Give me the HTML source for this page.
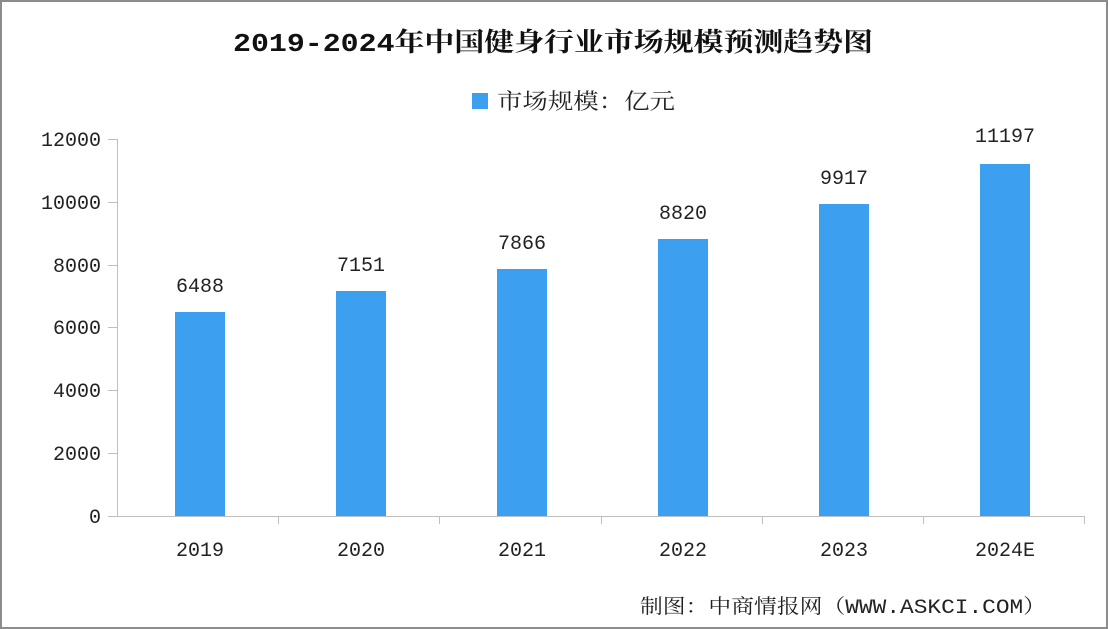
<!DOCTYPE html>
<html><head><meta charset="utf-8"><style>
html,body{margin:0;padding:0;background:#fff}
svg{display:block}
text{font-family:"Liberation Mono","Noto Serif CJK SC",monospace}
</style></head><body>
<svg width="1108" height="629" viewBox="0 0 1108 629" xmlns="http://www.w3.org/2000/svg">
<rect x="1" y="1" width="1106" height="627" fill="#fff" stroke="#8c8c8c" stroke-width="2"/>
<text x="233" y="51" font-size="26" font-weight="bold" fill="#111" textLength="640" lengthAdjust="spacingAndGlyphs">2019-2024年中国健身行业市场规模预测趋势图</text>
<rect x="472" y="93" width="16" height="16" fill="#3d9ff0"/>
<text x="497" y="109" font-size="22" fill="#222" textLength="178" lengthAdjust="spacingAndGlyphs" font-family="'Liberation Sans','Noto Sans CJK SC',sans-serif">市场规模：亿元</text>
<g stroke="#bfbfbf" stroke-width="1">
<line x1="117.5" y1="139" x2="117.5" y2="516"/>
<line x1="117" y1="516.5" x2="1085" y2="516.5"/>
<line x1="108" y1="139.5" x2="117" y2="139.5"/>
<line x1="108" y1="202.5" x2="117" y2="202.5"/>
<line x1="108" y1="265.5" x2="117" y2="265.5"/>
<line x1="108" y1="327.5" x2="117" y2="327.5"/>
<line x1="108" y1="390.5" x2="117" y2="390.5"/>
<line x1="108" y1="453.5" x2="117" y2="453.5"/>
<line x1="108" y1="516.5" x2="117" y2="516.5"/>
<line x1="278.5" y1="516" x2="278.5" y2="524"/>
<line x1="439.5" y1="516" x2="439.5" y2="524"/>
<line x1="601.5" y1="516" x2="601.5" y2="524"/>
<line x1="762.5" y1="516" x2="762.5" y2="524"/>
<line x1="923.5" y1="516" x2="923.5" y2="524"/>
<line x1="1084.5" y1="516" x2="1084.5" y2="524"/>
</g>
<g font-size="20" fill="#222" text-anchor="end">
<text x="101" y="146">12000</text>
<text x="101" y="209">10000</text>
<text x="101" y="272">8000</text>
<text x="101" y="334">6000</text>
<text x="101" y="397">4000</text>
<text x="101" y="460">2000</text>
<text x="101" y="523">0</text>
</g>
<g fill="#3d9ff0">
<rect x="175" y="312" width="50" height="204"/>
<rect x="336" y="291" width="50" height="225"/>
<rect x="497" y="269" width="50" height="247"/>
<rect x="658" y="239" width="50" height="277"/>
<rect x="819" y="204" width="50" height="312"/>
<rect x="980" y="164" width="50" height="352"/>
</g>
<g font-size="20" fill="#222" text-anchor="middle">
<text x="200" y="292">6488</text>
<text x="361" y="271">7151</text>
<text x="522" y="249">7866</text>
<text x="683" y="219">8820</text>
<text x="844" y="184">9917</text>
<text x="1005" y="142">11197</text>
<text x="200" y="556">2019</text>
<text x="361" y="556">2020</text>
<text x="522" y="556">2021</text>
<text x="683" y="556">2022</text>
<text x="844" y="556">2023</text>
<text x="1005" y="556">2024E</text>
</g>
<text x="640" y="613" font-size="20" fill="#222" textLength="406" lengthAdjust="spacingAndGlyphs">制图：中商情报网（WWW.ASKCI.COM）</text>
</svg>
</body></html>
